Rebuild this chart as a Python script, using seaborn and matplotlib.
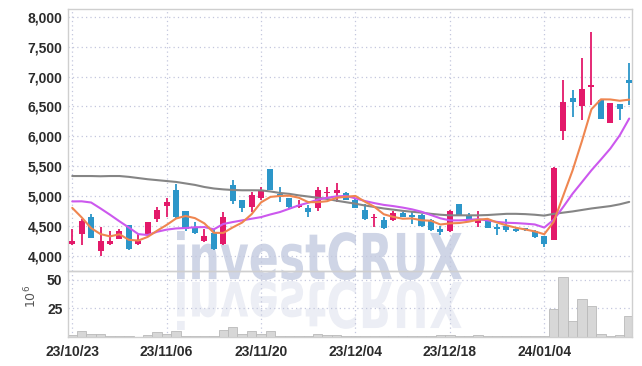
import numpy as np
import pandas as pd
import seaborn as sns
import matplotlib
matplotlib.use('Agg')
import matplotlib.pyplot as plt
from matplotlib.ticker import FuncFormatter
from matplotlib.textpath import TextPath
from matplotlib.patches import PathPatch
from matplotlib.font_manager import FontProperties
from matplotlib.transforms import Affine2D, IdentityTransform

# Daily candles, 23/10/23 .. 24/01/17 (KRX trading days)
dates = pd.bdate_range('2023-10-23', '2024-01-17', freq='C',
                       holidays=['2023-12-25', '2023-12-29', '2024-01-01'])
tick_labels = ['23/10/23', '23/11/06', '23/11/20', '23/12/04', '23/12/18', '24/01/04']

opens = [4200, 4370, 4650, 4080, 4200, 4280, 4520, 4190, 4370, 4620,
         4830, 5100, 4740, 4480, 4250, 4380, 4190, 5190, 4940, 4810,
         4970, 5450, 5030, 4970, 4810, 4790, 4790, 5050, 5050, 5050,
         4940, 4760, 4630, 4600, 4600, 4710, 4675, 4675, 4590, 4450,
         4420, 4870, 4685, 4545, 4606, 4477, 4490, 4450, 4460, 4420,
         4320, 4254, 6090, 6645, 6505, 6820, 6617, 6225, 6550, 6942]
highs = [4450, 4620, 4700, 4480, 4420, 4440, 4520, 4370, 4570, 4810,
         4970, 5200, 4740, 4560, 4450, 4450, 4730, 5260, 4940, 5070,
         5150, 5450, 5150, 4970, 4930, 4840, 5150, 5150, 5220, 5060,
         4950, 4870, 4690, 4645, 4750, 4730, 4730, 4700, 4620, 4490,
         4760, 4870, 4720, 4750, 4610, 4535, 4620, 4480, 4470, 4430,
         4320, 5480, 6950, 6785, 7306, 7743, 6617, 6566, 6550, 7222]
lows = [4170, 4170, 4300, 4000, 4170, 4270, 4100, 4170, 4330, 4560,
        4650, 4620, 4420, 4370, 4230, 4100, 4170, 4870, 4730, 4730,
        4930, 5100, 4900, 4790, 4790, 4640, 4750, 4990, 4900, 4930,
        4800, 4590, 4480, 4450, 4580, 4645, 4535, 4480, 4420, 4340,
        4400, 4675, 4600, 4480, 4460, 4340, 4395, 4390, 4420, 4300,
        4150, 4254, 5945, 6325, 6270, 6522, 6298, 6225, 6270, 6522]
closes = [4240, 4580, 4300, 4250, 4240, 4420, 4110, 4240, 4560, 4760,
          4900, 4650, 4450, 4380, 4320, 4110, 4640, 4910, 4790, 5020,
          5100, 5100, 4990, 4810, 4850, 4730, 5100, 5070, 5100, 4930,
          4800, 4620, 4645, 4470, 4710, 4645, 4645, 4490, 4430, 4395,
          4740, 4675, 4606, 4590, 4467, 4438, 4433, 4405, 4440, 4310,
          4200, 5470, 6577, 6577, 6790, 6858, 6298, 6566, 6466, 6886]

ma5 = [4800, 4640, 4460, 4360, 4322, 4358, 4264, 4252, 4314, 4418,
       4514, 4622, 4664, 4628, 4540, 4382, 4380, 4472, 4554, 4694,
       4892, 4984, 5000, 5004, 4970, 4896, 4896, 4912, 4970, 4986,
       5000, 4904, 4819, 4693, 4649, 4618, 4623, 4592, 4584, 4521,
       4540, 4546, 4569, 4601, 4616, 4555, 4507, 4467, 4437, 4405,
       4358, 4565, 4999, 5427, 5923, 6454, 6620, 6618, 6596, 6615]
ma20 = [4908, 4910, 4890, 4790, 4685, 4575, 4470, 4360, 4345, 4400,
        4435, 4455, 4462, 4475, 4478, 4440, 4530, 4562, 4590, 4618,
        4645, 4690, 4730, 4786, 4842, 4886, 4937, 4970, 4993, 5000,
        4960, 4915, 4880, 4850, 4830, 4805, 4775, 4735, 4680, 4625,
        4590, 4590, 4600, 4610, 4590, 4565, 4550, 4545, 4535, 4522,
        4470, 4600, 4813, 5037, 5233, 5430, 5610, 5794, 6017, 6298]
ma60 = [5334, 5334, 5334, 5330, 5334, 5334, 5320, 5300, 5280, 5265,
        5250, 5235, 5210, 5185, 5150, 5125, 5110, 5100, 5095, 5095,
        5094, 5075, 5050, 5035, 5010, 4990, 4970, 4950, 4920, 4895,
        4870, 4840, 4815, 4790, 4770, 4750, 4735, 4720, 4700, 4685,
        4675, 4675, 4675, 4675, 4680, 4690, 4700, 4700, 4695, 4685,
        4670, 4700, 4720, 4740, 4765, 4790, 4810, 4830, 4860, 4900]

# volume in millions of shares
volume = [1.5, 5, 2.4, 3, 1.3, 1.3, 1.3, 0.4, 2, 4,
          3, 5, 0.5, 0.5, 0.5, 0.5, 6.5, 9, 2.5, 5.5,
          3, 5, 1.3, 0.5, 0.5, 0.5, 2.5, 2, 2, 0.8,
          0.5, 0.5, 0.5, 0.5, 0.5, 0.5, 0.8, 0.5, 0.5, 1.5,
          2, 0.8, 0.5, 1.8, 0.5, 0.5, 0.5, 0.5, 0.5, 0.5,
          0.5, 24, 52, 14, 33, 27, 2.7, 0.5, 2, 18]

RED = '#e3196a'
BLUE = '#2c96c9'
GRID = '#c3c7dd'
TXT = '#2b2b2b'

sns.set_style('white')
plt.rcParams['font.family'] = ['Liberation Sans', 'DejaVu Sans']

fig = plt.figure(figsize=(6.42, 3.66), dpi=100)
ax = fig.add_axes([0.1059, 0.2582, 0.8793, 0.7164], facecolor='none')
axv = fig.add_axes([0.1059, 0.0792, 0.8793, 0.1790], facecolor='none')

df = pd.DataFrame({'date': dates, 'open': opens, 'high': highs, 'low': lows,
                   'close': closes, 'ma5': ma5, 'ma20': ma20, 'ma60': ma60,
                   'volume': volume})
df['i'] = np.arange(len(df))
cols = np.where(df['close'] >= df['open'], RED, BLUE)

# watermark + its reflection, behind everything
tp = TextPath((0, 0), 'investCRUX', size=100,
              prop=FontProperties(family='DejaVu Sans', weight='bold'))
ext = tp.get_extents()
H = 366
sx = (462 - 177) / ext.width
sy = (280 - 231) / ext.height
base = Affine2D().translate(-ext.x0, -ext.y0)
wm = PathPatch(tp, transform=base + Affine2D().scale(sx, sy).translate(177, H - 280) + IdentityTransform(),
               facecolor='#cfd5e6', edgecolor='none', zorder=-1)
wm_r = PathPatch(tp, transform=base + Affine2D().scale(sx, -sy).translate(177, H - 281) + IdentityTransform(),
                 facecolor='#eceef5', edgecolor='none', zorder=-1)
fig.add_artist(wm)
fig.add_artist(wm_r)

# candles
ax.vlines(df['i'], df['low'], df['high'], colors=cols, linewidth=1.3, zorder=3)
ax.bar(df['i'], df['close'] - df['open'], bottom=df['open'], width=0.64,
       color=cols, linewidth=0, zorder=4)

# moving averages
sns.lineplot(data=df, x='i', y='ma60', ax=ax, color='#858585', linewidth=1.5, zorder=5)
sns.lineplot(data=df, x='i', y='ma20', ax=ax, color='#cc58ee', linewidth=1.5, zorder=5)
sns.lineplot(data=df, x='i', y='ma5', ax=ax, color='#ef8650', linewidth=1.5, zorder=5)

# volume
sns.barplot(data=df, x='i', y='volume', ax=axv, native_scale=True, width=1.0,
            color='#d7d7d7', edgecolor='#b9b9b9', linewidth=0.6, saturation=1)

ticks = list(range(0, 60, 10))
for a in (ax, axv):
    a.set_xlim(-0.45, 59.35)
    a.set_xticks(ticks)
    a.set_xlabel('')
    a.set_ylabel('')
    a.grid(True, color=GRID, linestyle=(0, (1, 2.5)), linewidth=0.9)
    a.set_axisbelow(True)
    a.tick_params(length=0, labelsize=10, labelcolor=TXT, pad=4)
    for s in a.spines.values():
        s.set_color('#cfcfcf')
        s.set_linewidth(1)

ax.set_ylim(3733, 8130)
ax.set_yticks(range(4000, 8001, 500))
ax.yaxis.set_major_formatter(FuncFormatter(lambda v, p: f'{v:,.0f}'))
ax.tick_params(labelbottom=False)

axv.set_ylim(0, 57)
axv.set_yticks([25, 50])
axv.set_xticklabels(tick_labels)
axv.tick_params(axis='x', pad=6)
for lbl in ax.get_yticklabels() + axv.get_yticklabels() + axv.get_xticklabels():
    lbl.set_fontweight('bold')

fig.text(0.048, 0.19, r'$10^6$', rotation=90, ha='center', va='center',
         fontsize=9, color='#555555')

fig.savefig('out.png', dpi=100)
